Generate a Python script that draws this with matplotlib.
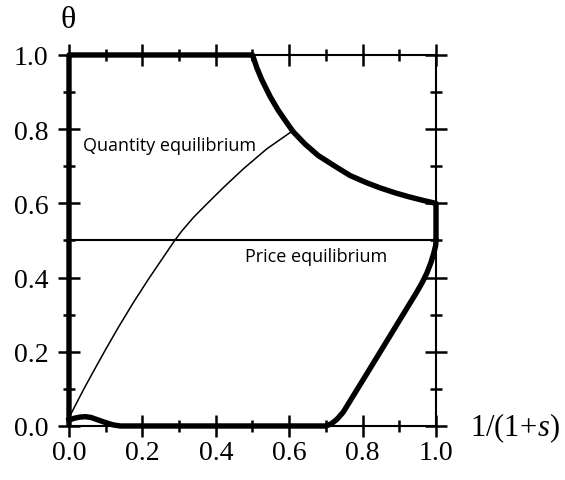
import matplotlib.pyplot as plt
from matplotlib.ticker import MultipleLocator

plt.rcParams['mathtext.fontset'] = 'custom'
plt.rcParams['mathtext.rm'] = 'Liberation Serif'
plt.rcParams['mathtext.it'] = 'Liberation Serif:italic'

# upper thick boundary: left wall, top edge, falling curve, right wall down to 0.5
upper_x = [0.0, 0.0, 0.500, 0.512, 0.525, 0.548, 0.570, 0.593, 0.611, 0.643, 0.679,
           0.725, 0.766, 0.810, 0.847, 0.890, 0.929, 0.965, 1.0, 1.0]
upper_y = [0.0, 1.0, 1.000, 0.965, 0.934, 0.888, 0.851, 0.818, 0.793, 0.760, 0.729,
           0.700, 0.675, 0.656, 0.642, 0.628, 0.617, 0.608, 0.600, 0.500]

# lower thick boundary
lower_x = [0.0, 0.015, 0.03, 0.045, 0.06, 0.08, 0.10, 0.12, 0.14, 0.70, 0.715, 0.73,
           0.747, 0.811, 0.884, 0.947, 0.962, 0.975, 0.986, 0.994, 0.999, 1.0]
lower_y = [0.016, 0.021, 0.024, 0.025, 0.023, 0.016, 0.009, 0.003, 0.0, 0.0, 0.006, 0.018,
           0.037, 0.140, 0.258, 0.360, 0.386, 0.412, 0.440, 0.466, 0.486, 0.500]

# quantity equilibrium curve
qty_x = [0.003, 0.016, 0.039, 0.066, 0.098, 0.134, 0.175, 0.216, 0.253, 0.288,
         0.307, 0.339, 0.375, 0.420, 0.475, 0.539, 0.607]
qty_y = [0.028, 0.053, 0.097, 0.146, 0.203, 0.265, 0.332, 0.395, 0.449, 0.500,
         0.525, 0.562, 0.598, 0.642, 0.693, 0.747, 0.794]

# price equilibrium level
price_level = 0.5

fig = plt.figure(figsize=(5.65, 4.81), dpi=100)
ax = fig.add_axes([0.1221, 0.1123, 0.6496, 0.7713])

ax.plot(upper_x, upper_y, color='black', lw=3.9, solid_joinstyle='round',
        solid_capstyle='butt', clip_on=False, zorder=4)
ax.plot(lower_x, lower_y, color='black', lw=3.9, solid_joinstyle='round',
        clip_on=False, zorder=4)
ax.plot(qty_x, qty_y, color='black', lw=1.1, solid_joinstyle='round', zorder=3)
ax.plot([0, 1], [price_level, price_level], color='black', lw=1.5, zorder=3)

ax.text(0.037, 0.757, 'Quantity equilibrium', fontsize=13, family='Open Sans',
        va='center', ha='left')
ax.text(0.48, 0.459, 'Price equilibrium', fontsize=13, family='Open Sans',
        va='center', ha='left')

ax.set_xlim(0, 1)
ax.set_ylim(0, 1)
for s in ax.spines.values():
    s.set_linewidth(1.5)

ax.xaxis.set_major_locator(MultipleLocator(0.2))
ax.xaxis.set_minor_locator(MultipleLocator(0.1))
ax.yaxis.set_major_locator(MultipleLocator(0.2))
ax.yaxis.set_minor_locator(MultipleLocator(0.1))
ax.tick_params(which='both', direction='inout', top=True, right=True, width=1.8)
ax.tick_params(which='major', length=16)
ax.tick_params(which='minor', length=9)
ax.tick_params(axis='x', pad=2)
ax.tick_params(axis='y', pad=7)
ax.set_xticklabels([f'{v:.1f}' for v in ax.get_xticks()], family='Liberation Serif', fontsize=20)
ax.set_yticklabels([f'{v:.1f}' for v in ax.get_yticks()], family='Liberation Serif', fontsize=20)

fig.text(68 / 565, 1 - 20 / 481, 'θ', family='Liberation Serif', fontsize=23,
         ha='center', va='center')
fig.text(470 / 565, 1 - 428 / 481, r'$\mathrm{1/(1}\!+\!\mathit{s}\mathrm{)}$',
         fontsize=22, ha='left', va='center')

fig.savefig('out.png', dpi=100)
